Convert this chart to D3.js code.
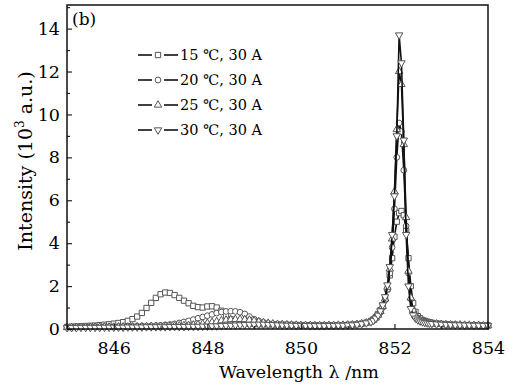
<!DOCTYPE html>
<html>
<head>
<meta charset="utf-8">
<script src="https://cdn.jsdelivr.net/npm/d3@7.9.0/dist/d3.min.js"></script>
<style>
  body { margin: 0; background: #fff; }
  svg { font-family: "DejaVu Serif", serif; }
</style>
</head>
<body>
<div id="chart"></div>
<script>
// wavelength grid (nm), denser around the lasing peak
const wavelength = [
  845.0, 845.1, 845.2, 845.3, 845.4, 845.5, 845.6, 845.7, 845.8, 845.9,
  846.0, 846.1, 846.2, 846.3, 846.4, 846.5, 846.6, 846.7, 846.8, 846.9,
  847.0, 847.1, 847.2, 847.3, 847.4, 847.5, 847.6, 847.7, 847.8, 847.9,
  848.0, 848.1, 848.2, 848.3, 848.4, 848.5, 848.6, 848.7, 848.8, 848.9,
  849.0, 849.1, 849.2, 849.3, 849.4, 849.5, 849.6, 849.7, 849.8, 849.9,
  850.0, 850.1, 850.2, 850.3, 850.4, 850.5, 850.6, 850.7, 850.8, 850.9,
  851.0, 851.1, 851.2, 851.3, 851.4, 851.5,
  851.55, 851.6, 851.65, 851.7, 851.75, 851.8, 851.85, 851.9, 851.95, 852.0,
  852.05, 852.1, 852.15, 852.2, 852.25, 852.3, 852.35, 852.4, 852.45, 852.5,
  852.55, 852.6, 852.65, 852.7, 852.75, 852.8,
  852.9, 853.0, 853.1, 853.2, 853.3, 853.4, 853.5, 853.6, 853.7, 853.8, 853.9, 854.0
];

// intensity in 10^3 a.u.
const int15 = [
  0.10, 0.11, 0.12, 0.13, 0.14, 0.15, 0.16, 0.18, 0.20, 0.22,
  0.25, 0.28, 0.32, 0.38, 0.46, 0.58, 0.75, 0.98, 1.22, 1.45,
  1.62, 1.70, 1.68, 1.58, 1.45, 1.32, 1.20, 1.08, 1.02, 1.00,
  1.05, 1.06, 1.00, 0.85, 0.62, 0.45, 0.35, 0.30, 0.27, 0.25,
  0.24, 0.23, 0.22, 0.22, 0.21, 0.21, 0.20, 0.20, 0.19, 0.19,
  0.18, 0.18, 0.18, 0.18, 0.17, 0.17, 0.17, 0.17, 0.18, 0.18,
  0.19, 0.20, 0.22, 0.25, 0.30, 0.38,
  0.45, 0.55, 0.70, 0.88, 1.10, 1.40, 1.85, 2.50, 3.30, 4.30,
  5.00, 5.40, 5.50, 5.30, 4.60, 3.30, 2.00, 1.20, 0.80, 0.60,
  0.50, 0.42, 0.38, 0.34, 0.31, 0.29,
  0.26, 0.24, 0.22, 0.21, 0.20, 0.19, 0.18, 0.18, 0.17, 0.17, 0.16, 0.16
];
const int20 = [
  0.08, 0.08, 0.09, 0.09, 0.09, 0.10, 0.10, 0.10, 0.11, 0.11,
  0.11, 0.12, 0.12, 0.12, 0.13, 0.13, 0.14, 0.14, 0.15, 0.16,
  0.17, 0.19, 0.21, 0.24, 0.28, 0.33, 0.38, 0.44, 0.50, 0.56,
  0.62, 0.68, 0.74, 0.79, 0.82, 0.83, 0.82, 0.78, 0.70, 0.58,
  0.46, 0.37, 0.31, 0.27, 0.24, 0.22, 0.21, 0.20, 0.19, 0.18,
  0.18, 0.17, 0.17, 0.17, 0.17, 0.17, 0.17, 0.18, 0.18, 0.19,
  0.20, 0.21, 0.23, 0.26, 0.30, 0.36,
  0.42, 0.50, 0.62, 0.78, 1.00, 1.35, 1.85, 2.60, 3.80, 5.60,
  8.00, 9.60, 9.20, 7.40, 4.80, 2.60, 1.40, 0.85, 0.60, 0.48,
  0.40, 0.35, 0.32, 0.29, 0.27, 0.26,
  0.24, 0.23, 0.22, 0.21, 0.20, 0.19, 0.19, 0.18, 0.18, 0.17, 0.17, 0.17
];
const int25 = [
  0.07, 0.07, 0.07, 0.08, 0.08, 0.08, 0.08, 0.09, 0.09, 0.09,
  0.09, 0.10, 0.10, 0.10, 0.10, 0.11, 0.11, 0.11, 0.12, 0.12,
  0.12, 0.13, 0.13, 0.14, 0.15, 0.16, 0.17, 0.19, 0.21, 0.24,
  0.27, 0.31, 0.35, 0.39, 0.42, 0.44, 0.45, 0.45, 0.44, 0.42,
  0.38, 0.34, 0.30, 0.27, 0.24, 0.22, 0.21, 0.20, 0.19, 0.18,
  0.17, 0.17, 0.17, 0.16, 0.16, 0.16, 0.17, 0.17, 0.18, 0.18,
  0.19, 0.20, 0.22, 0.25, 0.29, 0.35,
  0.42, 0.52, 0.65, 0.82, 1.05, 1.40, 1.95, 2.80, 4.20, 6.40,
  9.30, 12.00, 11.40, 8.60, 5.20, 2.70, 1.45, 0.88, 0.62, 0.48,
  0.40, 0.35, 0.31, 0.29, 0.27, 0.26,
  0.24, 0.22, 0.21, 0.20, 0.19, 0.19, 0.18, 0.18, 0.17, 0.17, 0.16, 0.16
];
const int30 = [
  0.06, 0.06, 0.06, 0.07, 0.07, 0.07, 0.07, 0.07, 0.08, 0.08,
  0.08, 0.08, 0.08, 0.09, 0.09, 0.09, 0.09, 0.10, 0.10, 0.10,
  0.10, 0.10, 0.11, 0.11, 0.11, 0.11, 0.12, 0.12, 0.12, 0.13,
  0.13, 0.14, 0.14, 0.15, 0.16, 0.17, 0.18, 0.19, 0.20, 0.21,
  0.22, 0.22, 0.22, 0.21, 0.20, 0.19, 0.18, 0.17, 0.17, 0.16,
  0.16, 0.16, 0.15, 0.15, 0.15, 0.15, 0.16, 0.16, 0.17, 0.17,
  0.18, 0.19, 0.21, 0.24, 0.28, 0.33,
  0.40, 0.50, 0.64, 0.84, 1.12, 1.50, 2.05, 2.90, 4.40, 6.20,
  9.00, 13.70, 12.40, 8.80, 4.40, 2.00, 0.95, 0.65, 0.50, 0.42,
  0.37, 0.33, 0.30, 0.28, 0.26, 0.25,
  0.23, 0.22, 0.21, 0.20, 0.19, 0.19, 0.18, 0.18, 0.17, 0.17, 0.16, 0.16
];

const seriesLabels = ["15 \u2103, 30 A", "20 \u2103, 30 A", "25 \u2103, 30 A", "30 \u2103, 30 A"];
const xMajor = [846, 848, 850, 852, 854];
const xMinor = [845, 847, 849, 851, 853];
const yMajor = [0, 2, 4, 6, 8, 10, 12, 14];
const yMinor = [1, 3, 5, 7, 9, 11, 13, 15];

const width = 514;
const height = 388;
const plot = { left: 67, right: 488, top: 5, bottom: 329 };

const svg = d3.select("#chart")
  .append("svg")
  .attr("width", width)
  .attr("height", height);

const xScale = d3.scaleLinear().domain([845, 854]).range([plot.left, plot.right]);
const yScale = d3.scaleLinear().domain([0, 15.1]).range([plot.bottom, plot.top]);

// symbols for each series
const symbols = [
  d3.symbol().type(d3.symbolSquare).size(28),
  d3.symbol().type(d3.symbolCircle).size(26),
  d3.symbol().type(d3.symbolTriangle).size(24),
  d3.symbol().type(d3.symbolTriangle).size(24)
];
const rotations = [0, 0, 0, 180];

const allSeries = [int15, int20, int25, int30].map((vals, i) => ({
  label: seriesLabels[i],
  idx: i,
  points: vals.map((v, j) => ({ x: wavelength[j], y: v }))
}));

const line = d3.line()
  .x(d => xScale(d.x))
  .y(d => yScale(d.y));

const dataG = svg.append("g");

allSeries.forEach(s => {
  const g = dataG.append("g");
  g.append("path")
    .datum(s.points)
    .attr("fill", "none")
    .attr("stroke", "#111")
    .attr("stroke-width", 1.6)
    .attr("d", line);

  g.selectAll("path.mk")
    .data(s.points)
    .join("path")
    .attr("class", "mk")
    .attr("d", symbols[s.idx])
    .attr("transform", d => `translate(${xScale(d.x)},${yScale(d.y)}) rotate(${rotations[s.idx]})`)
    .attr("fill", "#fff")
    .attr("stroke", "#555")
    .attr("stroke-width", 1);
});

// axes (inward ticks)
svg.append("g")
  .attr("transform", `translate(0,${plot.bottom})`)
  .call(d3.axisBottom(xScale).tickValues(xMajor).tickSizeInner(-5).tickSizeOuter(0).tickPadding(13));
svg.append("g")
  .attr("transform", `translate(0,${plot.bottom})`)
  .call(d3.axisBottom(xScale).tickValues(xMinor).tickSizeInner(-3).tickSizeOuter(0).tickFormat(""));

svg.append("g")
  .attr("transform", `translate(${plot.left},0)`)
  .call(d3.axisLeft(yScale).tickValues(yMajor).tickSizeInner(-5).tickSizeOuter(0).tickPadding(7));
svg.append("g")
  .attr("transform", `translate(${plot.left},0)`)
  .call(d3.axisLeft(yScale).tickValues(yMinor.filter(v => v < 15.1)).tickSizeInner(-3).tickSizeOuter(0).tickFormat(""));

svg.selectAll(".domain").remove();
svg.selectAll(".tick line").attr("stroke", "#222").attr("stroke-width", 1.2);
svg.selectAll(".tick text")
  .attr("font-family", "DejaVu Serif, serif")
  .attr("font-size", 17.5)
  .attr("fill", "#000");

// frame
svg.append("rect")
  .attr("x", plot.left)
  .attr("y", plot.top)
  .attr("width", plot.right - plot.left)
  .attr("height", plot.bottom - plot.top)
  .attr("fill", "none")
  .attr("stroke", "#111")
  .attr("stroke-width", 1.5);

// panel label
svg.append("text")
  .attr("x", 72)
  .attr("y", 25)
  .attr("font-size", 17)
  .attr("fill", "#000")
  .text("(b)");

// axis titles
svg.append("text")
  .attr("x", 299)
  .attr("y", 378)
  .attr("text-anchor", "middle")
  .attr("font-size", 17.5)
  .attr("fill", "#000")
  .text("Wavelength \u03bb /nm");

const yTitle = svg.append("text")
  .attr("transform", `translate(32,161) rotate(-90)`)
  .attr("text-anchor", "middle")
  .attr("font-size", 19)
  .attr("fill", "#000");
yTitle.append("tspan").text("Intensity (10");
yTitle.append("tspan").attr("font-size", 12).attr("dy", -8).text("3");
yTitle.append("tspan").attr("dy", 8).text(" a.u.)");

// legend
const legend = svg.append("g");
allSeries.forEach((s, i) => {
  const ly = 55 + i * 25;
  legend.append("line")
    .attr("x1", 138).attr("x2", 152).attr("y1", ly).attr("y2", ly)
    .attr("stroke", "#111").attr("stroke-width", 1.6);
  legend.append("line")
    .attr("x1", 164).attr("x2", 178).attr("y1", ly).attr("y2", ly)
    .attr("stroke", "#111").attr("stroke-width", 1.6);
  legend.append("path")
    .attr("d", symbols[i])
    .attr("transform", `translate(158,${ly}) rotate(${rotations[i]})`)
    .attr("fill", "#fff")
    .attr("stroke", "#555")
    .attr("stroke-width", 1);
  legend.append("text")
    .attr("x", 180)
    .attr("y", ly + 5)
    .attr("font-size", 14.5)
    .attr("fill", "#000")
    .text(s.label);
});
</script>
</body>
</html>
